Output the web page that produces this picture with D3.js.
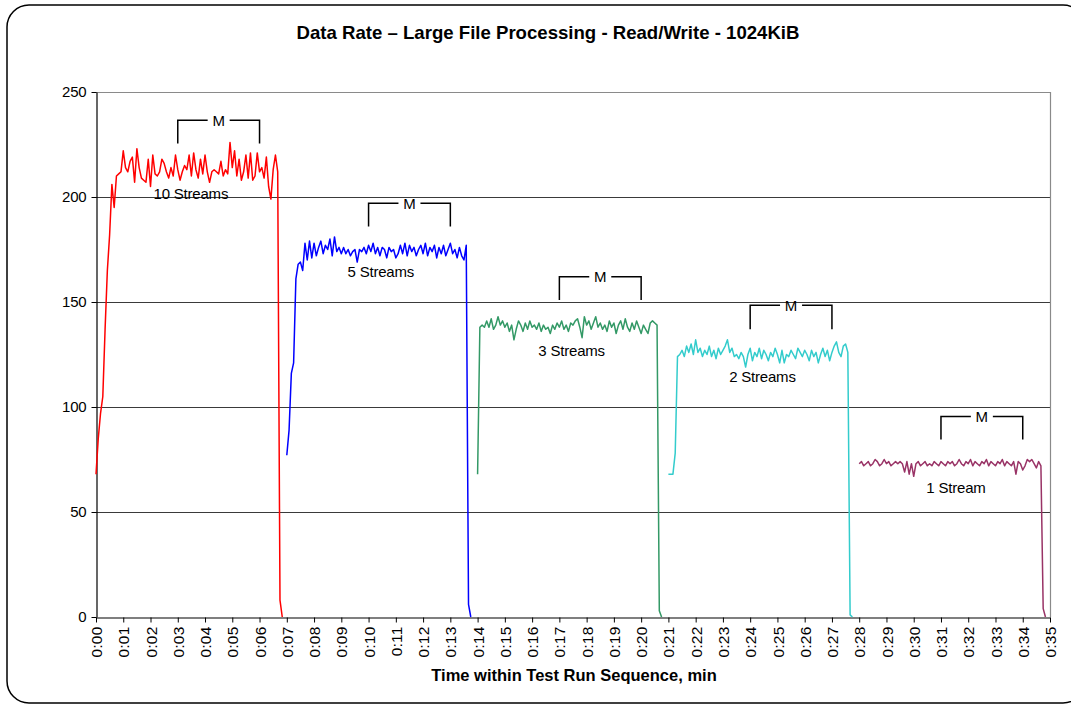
<!DOCTYPE html>
<html>
<head>
<meta charset="utf-8">
<script src="https://cdn.jsdelivr.net/npm/d3@7"></script>
<style>
  html, body { margin: 0; padding: 0; background: #fff; }
  svg { display: block; font-family: "Liberation Sans", Arial, sans-serif; }
</style>
</head>
<body>
<script>
// ---------------- DATA ----------------
const chartTitle = "Data Rate \u2013 Large File Processing - Read/Write - 1024KiB";
const xTitle = "Time within Test Run Sequence, min";
const yTitle = "Data Rate, MB/s";

const xTickLabels = ["0:00","0:01","0:02","0:03","0:04","0:05","0:06","0:07","0:08","0:09",
  "0:10","0:11","0:12","0:13","0:14","0:15","0:16","0:17","0:18","0:19","0:20","0:21","0:22",
  "0:23","0:24","0:25","0:26","0:27","0:28","0:29","0:30","0:31","0:32","0:33","0:34","0:35"];
const yTickValues = [0, 50, 100, 150, 200, 250];

const sampleSeconds = 5;                       // sampling interval of the measurements
const seriesNames = ["10 Streams", "5 Streams", "3 Streams", "2 Streams", "1 Stream"];
const seriesStartMin = [0, 7, 14, 21, 28];     // start time of each run, minutes

const rate10 = [68, 85, 97, 105, 137, 165, 182, 206, 195, 210,
  211, 212, 222, 214, 212, 217, 219, 207, 223, 214,
  209, 208, 207, 218, 205, 220, 211, 210, 212, 218,
  216, 212, 209, 214, 210, 220, 213, 208, 212, 215,
  213, 220, 210, 221, 213, 209, 218, 211, 220, 212,
  207, 212, 213, 212, 211, 217, 210, 213, 211, 226,
  214, 222, 210, 218, 208, 212, 220, 209, 221, 208,
  210, 221, 212, 214, 209, 219, 205, 199, 213, 220,
  212, 8, 0];
const rate5 = [77, 89, 116, 121, 161, 168, 169, 165, 178, 170,
  179, 171, 178, 172, 176, 179, 173, 177, 175, 180,
  172, 181, 174, 176, 173, 176, 173, 175, 172, 174,
  175, 169, 175, 174, 176, 173, 177, 174, 178, 173,
  176, 172, 176, 175, 171, 176, 174, 175, 171, 173,
  177, 173, 178, 172, 177, 174, 176, 172, 175, 177,
  173, 178, 172, 176, 174, 177, 171, 176, 173, 177,
  172, 175, 178, 173, 175, 171, 176, 172, 170, 177,
  6, 0];
const rate3 = [68, 138, 139, 138, 141, 138, 142, 137, 139, 143,
  139, 141, 138, 140, 136, 139, 132, 137, 141, 139,
  136, 140, 137, 141, 138, 139, 137, 140, 136, 139,
  137, 138, 135, 139, 137, 140, 138, 141, 137, 139,
  136, 140, 139, 141, 142, 138, 133, 143, 139, 141,
  137, 140, 143, 138, 140, 137, 139, 136, 141, 138,
  140, 135, 139, 141, 137, 142, 138, 136, 140, 137,
  141, 138, 135, 139, 137, 135, 140, 141, 140, 139,
  3, 0];
const rate2 = [68, 68, 68, 78, 124, 125, 127, 124, 129, 126,
  130, 125, 132, 126, 128, 124, 127, 125, 129, 124,
  127, 123, 128, 125, 127, 129, 132, 126, 128, 124,
  125, 123, 126, 124, 119, 125, 128, 122, 126, 124,
  128, 123, 127, 125, 122, 126, 124, 128, 125, 121,
  127, 121, 125, 124, 127, 125, 123, 128, 126, 124,
  127, 125, 122, 127, 124, 126, 121, 125, 128, 124,
  127, 122, 126, 129, 131, 126, 124, 129, 130, 126,
  1, 0];
const rate1 = [73, 74, 72, 73, 74, 72, 73, 75, 74, 72,
  73, 75, 73, 74, 72, 73, 74, 73, 74, 73,
  69, 74, 68, 73, 67, 73, 74, 72, 73, 74,
  72, 73, 72, 74, 73, 72, 74, 73, 72, 74,
  73, 74, 72, 73, 75, 73, 72, 74, 73, 75,
  72, 74, 73, 72, 74, 73, 75, 72, 74, 73,
  72, 74, 73, 75, 72, 74, 73, 72, 74, 68,
  74, 73, 70, 72, 75, 74, 75, 73, 71, 74,
  72, 4, 0];
const seriesValues = [rate10, rate5, rate3, rate2, rate1];

// "M" measurement-window brackets (minutes, MB/s)
const bracketStartMin = [3, 10, 17, 24, 31];
const bracketEndMin   = [6, 13, 20, 27, 34];
const bracketTopVal   = [236.5, 197, 162, 148.5, 95.5];
const bracketFootVal  = [225.5, 186, 151, 137, 84.5];

// series label anchor (minutes, MB/s)
const labelMin = [3.48, 10.45, 17.45, 24.45, 31.55];
const labelVal = [201.8, 164.7, 127, 114.5, 61.4];

// ---------------- DRAWING ----------------
const W = 1071, H = 706;
const colors = ["#ff0000", "#0000ff", "#339966", "#33cccc", "#993366"];

const svg = d3.select("body").append("svg").attr("width", W).attr("height", H);

const x = d3.scaleLinear().domain([0, 35]).range([96, 1050]);
const y = d3.scaleLinear().domain([0, 250]).range([617, 92]);

// outer rounded frame
svg.append("rect")
  .attr("x", 7).attr("y", 5).attr("width", 1078).attr("height", 698)
  .attr("rx", 22).attr("ry", 22)
  .attr("fill", "#fff").attr("stroke", "#000").attr("stroke-width", 1.5);

// title
svg.append("text")
  .attr("x", 548).attr("y", 39)
  .attr("text-anchor", "middle")
  .attr("font-weight", "bold").attr("font-size", 18.6)
  .text(chartTitle);

// gridlines
svg.append("g").selectAll("line")
  .data(yTickValues.filter(v => v > 0 && v < 250))
  .join("line")
  .attr("x1", x(0)).attr("x2", x(35))
  .attr("y1", d => Math.round(y(d)) + 0.5).attr("y2", d => Math.round(y(d)) + 0.5)
  .attr("stroke", "#3a3a3a").attr("stroke-width", 1);

// plot area top and right borders (gray)
svg.append("path")
  .attr("d", `M${x(0)},${y(250) + 0.5}H${x(35) + 0.5}V${y(0)}`)
  .attr("fill", "none").attr("stroke", "#8a8a8a").attr("stroke-width", 1.2);

// y axis
const yAxis = svg.append("g")
  .attr("transform", `translate(${x(0) + 0.5},0)`)
  .call(d3.axisLeft(y).tickValues(yTickValues).tickSize(5).tickSizeOuter(0).tickPadding(5));
yAxis.select(".domain").attr("stroke", "#000").attr("stroke-width", 1.2);
yAxis.selectAll(".tick line").attr("stroke", "#000");
yAxis.selectAll("text")
  .attr("font-family", "Liberation Sans, Arial, sans-serif")
  .attr("font-size", 15).attr("fill", "#000").attr("letter-spacing", -0.2);

// x axis
const xAxis = svg.append("g")
  .attr("transform", `translate(0,${y(0) + 0.5})`)
  .call(d3.axisBottom(x)
    .tickValues(xTickLabels.map((_, i) => i))
    .tickFormat((d, i) => xTickLabels[i])
    .tickSize(5).tickSizeOuter(0));
xAxis.select(".domain").attr("stroke", "#000").attr("stroke-width", 1.2);
xAxis.selectAll(".tick line").attr("stroke", "#000");
xAxis.selectAll("text")
  .attr("font-family", "Liberation Sans, Arial, sans-serif")
  .attr("font-size", 15.5).attr("fill", "#000").attr("letter-spacing", 0.2)
  .attr("transform", "rotate(-90)")
  .attr("text-anchor", "end")
  .attr("x", -9).attr("y", 0).attr("dy", "0.36em");

// axis titles
svg.append("text")
  .attr("x", 574).attr("y", 681)
  .attr("text-anchor", "middle")
  .attr("font-weight", "bold").attr("font-size", 16.5)
  .text(xTitle);

svg.append("clipPath").attr("id", "yclip")
  .append("rect").attr("x", 0).attr("y", 296).attr("width", 90).attr("height", 400);
svg.append("text")
  .attr("clip-path", "url(#yclip)")
  .attr("transform", "translate(43,413) rotate(-90)")
  .attr("text-anchor", "start")
  .attr("font-weight", "bold").attr("font-size", 16).attr("letter-spacing", -0.1)
  .text(yTitle);

// series lines
const line = d3.line()
  .x(d => x(d.t))
  .y(d => y(d.v));

seriesValues.forEach((vals, s) => {
  const pts = vals.map((v, i) => ({ t: seriesStartMin[s] + i * sampleSeconds / 60, v }));
  svg.append("path")
    .datum(pts)
    .attr("d", line)
    .attr("fill", "none")
    .attr("stroke", colors[s])
    .attr("stroke-width", 1.5)
    .attr("stroke-linejoin", "round");
});

// series labels
svg.append("g").selectAll("text")
  .data(seriesNames)
  .join("text")
  .attr("x", (d, i) => x(labelMin[i]))
  .attr("y", (d, i) => y(labelVal[i]) + 5.4)
  .attr("text-anchor", "middle")
  .attr("font-size", 15).attr("letter-spacing", -0.2)
  .text(d => d);

// M brackets
const gapHalf = 11;
const br = svg.append("g");
bracketStartMin.forEach((s, i) => {
  const x0 = x(s), x1 = x(bracketEndMin[i]), xm = (x0 + x1) / 2;
  const yt = y(bracketTopVal[i]), yb = y(bracketFootVal[i]);
  br.append("path")
    .attr("d", `M${x0},${yb}V${yt}H${xm - gapHalf}M${xm + gapHalf},${yt}H${x1}V${yb}`)
    .attr("fill", "none").attr("stroke", "#000").attr("stroke-width", 1.5);
  br.append("text")
    .attr("x", xm).attr("y", yt + 5.4)
    .attr("text-anchor", "middle")
    .attr("font-size", 15)
    .text("M");
});
</script>
</body>
</html>
